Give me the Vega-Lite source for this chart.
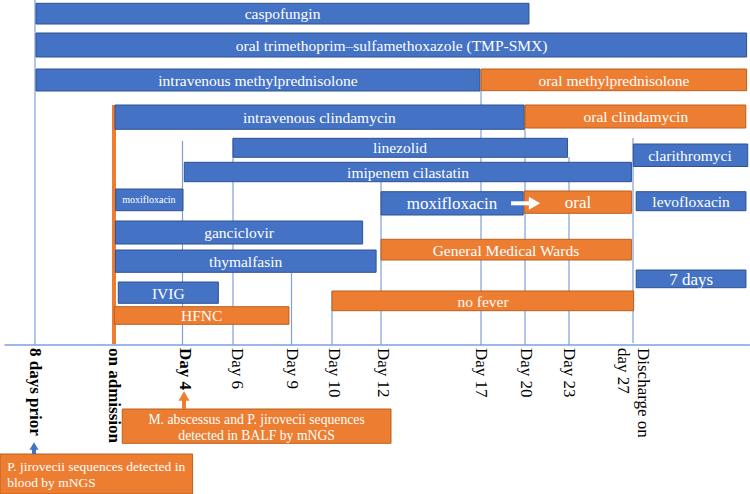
{
  "$schema": "https://vega.github.io/schema/vega-lite/v6.json",
  "width": 750,
  "height": 494,
  "autosize": {"type": "none"},
  "padding": 0,
  "background": "white",
  "config": {"view": {"stroke": null}, "font": "Liberation Serif"},
  "datasets": {
    "bars": [
      {"item": "caspofungin", "group": "A", "start": -7.9, "end": 20.27, "top": 3.3, "bottom": 24, "lx": 8.54, "ly": 14, "fs": "normal"},
      {"item": "oral trimethoprim–sulfamethoxazole (TMP-SMX)", "group": "A", "start": -7.9, "end": 34.1, "top": 33, "bottom": 57, "lx": 12.53, "ly": 45.5, "fs": "normal"},
      {"item": "intravenous methylprednisolone", "group": "A", "start": -7.9, "end": 16.95, "top": 69, "bottom": 91, "lx": 7.28, "ly": 80.5, "fs": "normal"},
      {"item": "oral methylprednisolone", "group": "B", "start": 17, "end": 34.1, "top": 69, "bottom": 90.7, "lx": 25.81, "ly": 80.5, "fs": "normal"},
      {"item": "intravenous clindamycin", "group": "A", "start": 0.06, "end": 19.95, "top": 105, "bottom": 129.3, "lx": 9.69, "ly": 117.5, "fs": "normal"},
      {"item": "oral clindamycin", "group": "B", "start": 20, "end": 34.05, "top": 105, "bottom": 128, "lx": 27.18, "ly": 117, "fs": "normal"},
      {"item": "linezolid", "group": "A", "start": 6, "end": 22.9, "top": 138.3, "bottom": 157.3, "lx": 12.95, "ly": 148, "fs": "normal"},
      {"item": "imipenem cilastatin", "group": "A", "start": 4.07, "end": 26.9, "top": 162.3, "bottom": 181.7, "lx": 13.35, "ly": 172.5, "fs": "normal"},
      {"item": "clarithromyci", "group": "A", "start": 27.02, "end": 34.17, "top": 144, "bottom": 166.5, "lx": 30.56, "ly": 156, "fs": "normal"},
      {"item": "moxifloxacin", "group": "A", "start": 0.1, "end": 4.02, "top": 189, "bottom": 210.7, "lx": 2.04, "ly": 200, "fs": "small"},
      {"item": "moxifloxacin", "group": "A", "start": 12, "end": 19.88, "top": 191.7, "bottom": 215, "lx": 15.55, "ly": 204, "fs": "large"},
      {"item": "oral", "group": "B", "start": 19.95, "end": 26.9, "top": 191, "bottom": 213.3, "lx": 23.56, "ly": 203, "fs": "large"},
      {"item": "levofloxacin", "group": "A", "start": 27.2, "end": 34.06, "top": 191.7, "bottom": 210.7, "lx": 30.63, "ly": 201.5, "fs": "normal"},
      {"item": "ganciclovir", "group": "A", "start": 0.08, "end": 11.25, "top": 221, "bottom": 244, "lx": 6.31, "ly": 233, "fs": "normal"},
      {"item": "thymalfasin", "group": "A", "start": 0.08, "end": 11.8, "top": 250, "bottom": 272.3, "lx": 6.65, "ly": 262, "fs": "normal"},
      {"item": "IVIG", "group": "A", "start": 0.25, "end": 5.42, "top": 282, "bottom": 303.3, "lx": 3.17, "ly": 293.5, "fs": "normal"},
      {"item": "HFNC", "group": "B", "start": 0.02, "end": 8.87, "top": 306.7, "bottom": 324.3, "lx": 4.76, "ly": 316, "fs": "normal"},
      {"item": "General Medical Wards", "group": "B", "start": 12, "end": 26.9, "top": 239.3, "bottom": 260, "lx": 18.7, "ly": 250.5, "fs": "normal"},
      {"item": "no fever", "group": "B", "start": 10, "end": 27.04, "top": 291, "bottom": 310.7, "lx": 17.14, "ly": 301.5, "fs": "normal"},
      {"item": "7 days", "group": "A", "start": 27.2, "end": 34.06, "top": 270, "bottom": 287.7, "lx": 30.63, "ly": 279.5, "fs": "large"}
    ],
    "notes": [
      {"note": ["M. abscessus and P. jirovecii sequences", "detected in BALF by mNGS"], "anchor": "center", "group": "B", "start": 0.48, "end": 12.5, "top": 409, "bottom": 443.3, "tx": 7.21, "ty": 420},
      {"note": ["P. jirovecii sequences detected in", "blood by mNGS"], "anchor": "left", "group": "B", "start": -11.54, "end": 4.4, "top": 454, "bottom": 494, "tx": -10.82, "ty": 467}
    ],
    "gridlines": [
      {"day": -8, "from": 0, "to": 345},
      {"day": 4, "from": 141, "to": 345},
      {"day": 6, "from": 138, "to": 345},
      {"day": 9, "from": 273, "to": 345},
      {"day": 10, "from": 291, "to": 345},
      {"day": 12, "from": 182, "to": 345},
      {"day": 17, "from": 91, "to": 345},
      {"day": 20, "from": 129, "to": 345},
      {"day": 23, "from": 157, "to": 345},
      {"day": 27, "from": 138, "to": 343}
    ],
    "admission": [{"day": 0, "from": 105, "to": 344}],
    "baseline": [{"from": -11.1, "to": 34.31, "level": 345}],
    "ticks": [
      {"day": -8, "label": "8 days prior", "bold": true},
      {"day": 0, "label": "on admission", "bold": true},
      {"day": 4.1, "label": "Day 4", "bold": true},
      {"day": 6.2, "label": "Day 6", "bold": false},
      {"day": 9, "label": "Day 9", "bold": false},
      {"day": 10.1, "label": "Day 10", "bold": false},
      {"day": 12.1, "label": "Day 12", "bold": false},
      {"day": 17, "label": "Day 17", "bold": false},
      {"day": 20.1, "label": "Day 20", "bold": false},
      {"day": 23, "label": "Day 23", "bold": false},
      {"day": 27.63, "label": ["Discharge on", "day 27"], "bold": false}
    ],
    "shafts": [
      {"arrow": "switch", "group": "C", "x1": 19.05, "x2": 20.3, "y1": 203.3, "y2": 203.3},
      {"arrow": "balf", "group": "B", "x1": 4.06, "x2": 4.06, "y1": 398, "y2": 409},
      {"arrow": "blood", "group": "A", "x1": -8.1, "x2": -8.1, "y1": 448, "y2": 454}
    ],
    "heads": [
      {"arrow": "switch", "group": "C", "hx": 20.65, "hy": 203.3},
      {"arrow": "balf", "group": "B", "hx": 4.06, "hy": 396},
      {"arrow": "blood", "group": "A", "hx": -8.1, "hy": 446}
    ]
  },
  "layer": [
    {
      "data": {"name": "gridlines"},
      "mark": {"type": "rule", "color": "#7EA1DC", "strokeWidth": 1.2},
      "encoding": {
        "x": {"field": "day", "type": "quantitative", "axis": null, "scale": {"type": "linear", "domain": [-8, 0, 4, 6, 9, 10, 12, 17, 20, 23, 27], "range": [35, 114, 182.5, 233, 291.5, 332, 381, 481, 525, 569, 633], "nice": false, "zero": false}},
        "y": {"field": "from", "type": "quantitative", "axis": null, "scale": {"domain": [0, 494], "range": [0, 494], "nice": false, "zero": false}},
        "y2": {"field": "to"}
      }
    },
    {
      "data": {"name": "baseline"},
      "mark": {"type": "rule", "color": "#7EA1DC", "strokeWidth": 1.5},
      "encoding": {
        "x": {"field": "from", "type": "quantitative"},
        "x2": {"field": "to"},
        "y": {"field": "level", "type": "quantitative"}
      }
    },
    {
      "data": {"name": "admission"},
      "mark": {"type": "rule", "color": "#ED7D31", "strokeWidth": 4},
      "encoding": {
        "x": {"field": "day", "type": "quantitative"},
        "y": {"field": "from", "type": "quantitative"},
        "y2": {"field": "to"}
      }
    },
    {
      "data": {"name": "bars"},
      "mark": {"type": "rect", "strokeWidth": 1},
      "encoding": {
        "x": {"field": "start", "type": "quantitative"},
        "x2": {"field": "end"},
        "y": {"field": "top", "type": "quantitative"},
        "y2": {"field": "bottom"},
        "color": {"field": "group", "type": "nominal", "legend": null, "scale": {"domain": ["A", "B", "C"], "range": ["#4472C4", "#ED7D31", "#FFFFFF"]}},
        "stroke": {"field": "group", "type": "nominal", "legend": null, "scale": {"domain": ["A", "B"], "range": ["#2F528F", "#B9611F"]}}
      }
    },
    {
      "data": {"name": "bars"},
      "transform": [{"filter": "datum.fs === 'normal'"}],
      "mark": {"type": "text", "color": "#FFFFFF", "align": "center", "baseline": "middle", "fontSize": 15.5, "font": "Liberation Serif"},
      "encoding": {
        "x": {"field": "lx", "type": "quantitative"},
        "y": {"field": "ly", "type": "quantitative"},
        "text": {"field": "item"}
      }
    },
    {
      "data": {"name": "bars"},
      "transform": [{"filter": "datum.fs === 'large'"}],
      "mark": {"type": "text", "color": "#FFFFFF", "align": "center", "baseline": "middle", "fontSize": 17, "font": "Liberation Serif"},
      "encoding": {
        "x": {"field": "lx", "type": "quantitative"},
        "y": {"field": "ly", "type": "quantitative"},
        "text": {"field": "item"}
      }
    },
    {
      "data": {"name": "bars"},
      "transform": [{"filter": "datum.fs === 'small'"}],
      "mark": {"type": "text", "color": "#FFFFFF", "align": "center", "baseline": "middle", "fontSize": 10, "font": "Liberation Serif"},
      "encoding": {
        "x": {"field": "lx", "type": "quantitative"},
        "y": {"field": "ly", "type": "quantitative"},
        "text": {"field": "item"}
      }
    },
    {
      "data": {"name": "notes"},
      "mark": {"type": "rect", "strokeWidth": 1},
      "encoding": {
        "x": {"field": "start", "type": "quantitative"},
        "x2": {"field": "end"},
        "y": {"field": "top", "type": "quantitative"},
        "y2": {"field": "bottom"},
        "color": {"field": "group", "type": "nominal", "legend": null},
        "stroke": {"field": "group", "type": "nominal", "legend": null}
      }
    },
    {
      "data": {"name": "notes"},
      "transform": [{"filter": "datum.anchor === 'center'"}],
      "mark": {"type": "text", "color": "#FFFFFF", "align": "center", "baseline": "middle", "fontSize": 13.7, "lineHeight": 16, "font": "Liberation Serif"},
      "encoding": {
        "x": {"field": "tx", "type": "quantitative"},
        "y": {"field": "ty", "type": "quantitative"},
        "text": {"field": "note"}
      }
    },
    {
      "data": {"name": "notes"},
      "transform": [{"filter": "datum.anchor === 'left'"}],
      "mark": {"type": "text", "color": "#FFFFFF", "align": "left", "baseline": "middle", "fontSize": 13.5, "lineHeight": 16, "font": "Liberation Serif"},
      "encoding": {
        "x": {"field": "tx", "type": "quantitative"},
        "y": {"field": "ty", "type": "quantitative"},
        "text": {"field": "note"}
      }
    },
    {
      "data": {"name": "shafts"},
      "mark": {"type": "rule", "strokeWidth": 4},
      "encoding": {
        "x": {"field": "x1", "type": "quantitative"},
        "x2": {"field": "x2"},
        "y": {"field": "y1", "type": "quantitative"},
        "y2": {"field": "y2"},
        "color": {"field": "group", "type": "nominal", "legend": null}
      }
    },
    {
      "data": {"name": "heads"},
      "transform": [{"filter": "datum.arrow === 'switch'"}],
      "mark": {"type": "point", "shape": "triangle-right", "filled": true, "opacity": 1, "size": 169},
      "encoding": {
        "x": {"field": "hx", "type": "quantitative"},
        "y": {"field": "hy", "type": "quantitative"},
        "color": {"field": "group", "type": "nominal", "legend": null}
      }
    },
    {
      "data": {"name": "heads"},
      "transform": [{"filter": "datum.arrow === 'balf'"}],
      "mark": {"type": "point", "shape": "triangle-up", "filled": true, "opacity": 1, "size": 121},
      "encoding": {
        "x": {"field": "hx", "type": "quantitative"},
        "y": {"field": "hy", "type": "quantitative"},
        "color": {"field": "group", "type": "nominal", "legend": null}
      }
    },
    {
      "data": {"name": "heads"},
      "transform": [{"filter": "datum.arrow === 'blood'"}],
      "mark": {"type": "point", "shape": "triangle-up", "filled": true, "opacity": 1, "size": 80},
      "encoding": {
        "x": {"field": "hx", "type": "quantitative"},
        "y": {"field": "hy", "type": "quantitative"},
        "color": {"field": "group", "type": "nominal", "legend": null}
      }
    },
    {
      "data": {"name": "ticks"},
      "transform": [{"filter": "datum.bold"}],
      "mark": {"type": "text", "color": "#000000", "angle": 90, "align": "left", "baseline": "middle", "fontSize": 17, "fontWeight": "bold", "font": "Liberation Serif"},
      "encoding": {
        "x": {"field": "day", "type": "quantitative"},
        "y": {"datum": 348, "type": "quantitative"},
        "text": {"field": "label"}
      }
    },
    {
      "data": {"name": "ticks"},
      "transform": [{"filter": "!datum.bold"}],
      "mark": {"type": "text", "color": "#000000", "angle": 90, "align": "left", "baseline": "middle", "fontSize": 17, "lineHeight": 20, "font": "Liberation Serif"},
      "encoding": {
        "x": {"field": "day", "type": "quantitative"},
        "y": {"datum": 348, "type": "quantitative"},
        "text": {"field": "label"}
      }
    }
  ]
}
